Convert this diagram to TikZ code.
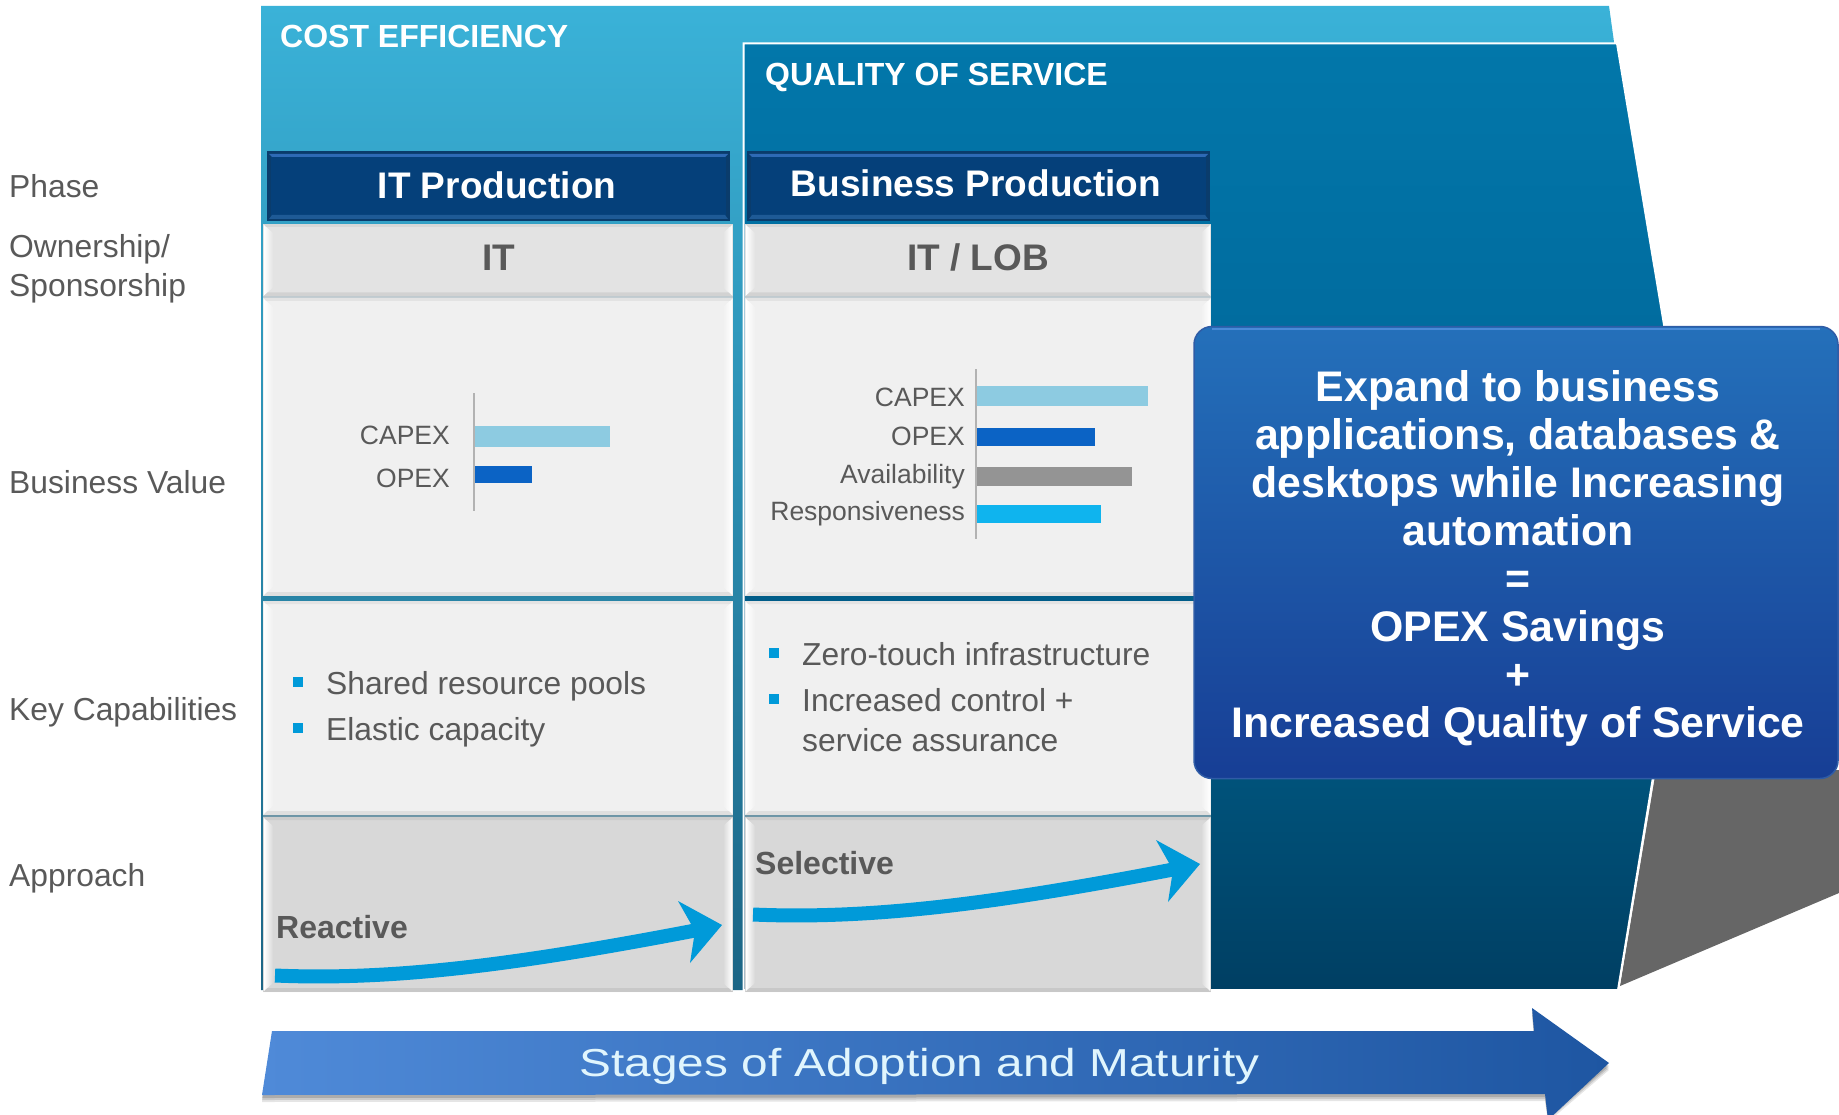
\documentclass[tikz,border=0pt]{standalone}
\usepackage{fontspec}
\setmainfont{Liberation Sans}
\usetikzlibrary{calc}
\definecolor{txtgray}{HTML}{595959}
\definecolor{qa}{HTML}{0277AA}
\definecolor{qb}{HTML}{016C9F}
\definecolor{qc}{HTML}{00527A}
\definecolor{qd}{HTML}{003F63}
\definecolor{ca}{HTML}{3AB2D8}
\definecolor{cb}{HTML}{1C6585}
\definecolor{hdr}{HTML}{05407A}
\definecolor{hdrhi}{HTML}{2E6AB5}
\definecolor{hdrlo}{HTML}{1E5A96}
\definecolor{hdrdk}{HTML}{0A3C6C}
\definecolor{rowa}{HTML}{E3E3E3}
\definecolor{rowb}{HTML}{F0F0F0}
\definecolor{rowc}{HTML}{D8D8D8}
\definecolor{barlight}{HTML}{8DCBE1}
\definecolor{barblue}{HTML}{0B63C5}
\definecolor{bargray}{HTML}{949494}
\definecolor{barcyan}{HTML}{0FB4EE}
\definecolor{accent}{HTML}{009AD9}
\definecolor{boxtop}{HTML}{2470BA}
\definecolor{boxbot}{HTML}{173E95}
\definecolor{boxedge}{HTML}{2F5CA6}
\definecolor{boxhi}{HTML}{4A8BD8}
\definecolor{arrL}{HTML}{4F8AD8}
\definecolor{arrR}{HTML}{1E56A2}
\definecolor{gapa}{HTML}{C5CFD4}
\definecolor{gapb}{HTML}{6F97A8}
\pgfdeclareverticalshading{qosshade}{100bp}{color(0bp)=(qd); color(25bp)=(qd); color(36bp)=(qc); color(60bp)=(qb); color(75bp)=(qa); color(100bp)=(qa)}
\tikzset{
  lab/.style={anchor=base west,text=txtgray,inner sep=0pt,font=\fontsize{31.8}{38}\selectfont},
  tiny label/.style={anchor=base east,text=txtgray,inner sep=0pt,font=\fontsize{26.5}{32}\selectfont},
  bold label/.style={anchor=base west,text=txtgray,inner sep=0pt,font=\bfseries\fontsize{32}{38}\selectfont},
  zone label/.style={anchor=base west,text=white,inner sep=0pt,font=\bfseries\fontsize{32}{38}\selectfont},
  head label/.style={anchor=base,text=white,inner sep=0pt,font=\bfseries\fontsize{37}{44}\selectfont},
  own label/.style={anchor=base,text=txtgray,inner sep=0pt,font=\bfseries\fontsize{37}{44}\selectfont},
  bullet mark/.style={fill=accent,inner sep=0pt,minimum size=9.5pt},
  axisline/.style={draw=black!30,line width=1.5pt},
  callout/.style={draw=boxedge,line width=1.5pt,rounded corners=18pt,top color=boxtop,bottom color=boxbot,minimum width=644pt,minimum height=452pt,inner sep=0pt},
  callout text/.style={inner sep=0pt,text=white,align=center,font=\bfseries\fontsize{42.8}{48}\selectfont},
  curvearrow/.style={draw=accent,line width=14pt},
}
% bevelled cell
\newcommand{\bevelcell}[5]{%
  \fill[#5] (#1,#2) rectangle (#3,#4);
  \shade[left color=white,right color=#5] (#1+1,#2+1) -- (#1+10,#2+9) -- (#1+10,#4-9) -- (#1+1,#4-1) -- cycle;
  \shade[right color=white,left color=#5] (#3-1,#2+1) -- (#3-10,#2+9) -- (#3-10,#4-9) -- (#3-1,#4-1) -- cycle;
  \fill[black,opacity=.07] (#1,#4) -- (#1+4,#4-4) -- (#3-4,#4-4) -- (#3,#4) -- cycle;
  \fill[black,opacity=.05] (#1,#2) -- (#1+3,#2+3) -- (#3-3,#2+3) -- (#3,#2) -- cycle;
}
\newcommand{\headercell}[4]{%
  \fill[hdrdk] (#1,#2) rectangle (#3,#4);
  \fill[hdr] (#1+4,#2+3) rectangle (#3-4,#4-3);
  \fill[hdrhi] (#1+2,#2+3) -- (#3-2,#2+3) -- (#3-5,#2+6) -- (#1+5,#2+6) -- cycle;
  \fill[hdrlo] (#1+2,#4-2) -- (#3-2,#4-2) -- (#3-5,#4-6) -- (#1+5,#4-6) -- cycle;
}
\newcommand{\curvedarrow}[2]{%
  \begin{scope}[shift={(#1,#2)}]
    \coordinate (ca) at (275,975.5);
    \coordinate (cb) at (695,930.5);
    \draw[curvearrow] (ca) .. controls (400,981) and (530,962) .. (cb);
    \fill[accent] (722,925) -- (678,901) -- (695,931) -- (690,963) -- cycle;
  \end{scope}
}
\begin{document}
\begin{tikzpicture}[x=1pt,y=-1pt]
\useasboundingbox (0,0) rectangle (1839,1115);
% gray wedge
\fill[black!60] (1620,986) -- (1656,770) -- (1839,770) -- (1839,893) -- cycle;
% cost efficiency zone
\shade[top color=ca,bottom color=cb] (261,6) -- (1609,6) -- (1614,42) -- (1614,990) -- (261,990) -- cycle;
% quality of service zone
\shadedraw[shading=qosshade,draw=white,line width=2pt] (743.5,43.5) -- (1617,43.5) -- (1696,516) -- (1618,990) -- (743.5,990) -- cycle;
\node[zone label] (costlab) at (280,48) {COST EFFICIENCY};
\node[zone label] (qoslab) at (765,86) {QUALITY OF SERVICE};
% column 1
\fill[gapa] (263,296) rectangle (733,299);
\fill[gapb] (263,814.5) rectangle (733,817.5);
\headercell{267}{151}{730}{221}
\bevelcell{263}{224}{733}{296.5}{rowa}
\bevelcell{263}{298}{733}{596}{rowb}
\bevelcell{263}{601}{733}{815}{rowb}
\bevelcell{263}{817}{733}{992}{rowc}
% column 2
\fill[gapa] (745,296) rectangle (1211,299);
\fill[gapb] (745,814.5) rectangle (1211,817.5);
\headercell{747}{151}{1210}{221}
\bevelcell{745}{224}{1211}{296.5}{rowa}
\bevelcell{745}{298}{1211}{596}{rowb}
\bevelcell{745}{601}{1211}{815}{rowb}
\bevelcell{745}{817}{1211}{992}{rowc}
\node[head label] (h1) at (497,199) {IT Production};
\node[head label] (h2) at (976,197) {Business Production};
\node[own label] (o1) at (499,271) {IT};
\node[own label] (o2) at (978,271) {IT / LOB};
% row titles
\node[lab] (t1) at (9,198) {Phase};
\node[lab] (t2) at (9,258) {Ownership/};
\node[lab] (t3) at (9,297) {Sponsorship};
\node[lab] (t4) at (9,493) {Business Value};
\node[lab] (t5) at (9,720) {Key Capabilities};
\node[lab] (t6) at (9,886) {Approach};
% chart 1
\coordinate (ax1a) at (474,393);
\coordinate (ax1b) at (474,511);
\draw[axisline] (ax1a) -- (ax1b);
\fill[barlight] (475,426) rectangle (610,447);
\fill[barblue] (475,466) rectangle (532,483);
\node[tiny label] (c1a) at (450,444) {CAPEX};
\node[tiny label] (c1b) at (450,487) {OPEX};
% chart 2
\coordinate (ax2a) at (976,369);
\coordinate (ax2b) at (976,539);
\draw[axisline] (ax2a) -- (ax2b);
\fill[barlight] (977,386) rectangle (1148,406);
\fill[barblue] (977,428) rectangle (1095,446);
\fill[bargray] (977,467) rectangle (1132,486);
\fill[barcyan] (977,505) rectangle (1101,523);
\node[tiny label] (c2a) at (965,406) {CAPEX};
\node[tiny label] (c2b) at (965,445) {OPEX};
\node[tiny label] (c2c) at (965,483) {Availability};
\node[tiny label] (c2d) at (965,520) {Responsiveness};
% capabilities
\node[bullet mark] (b1) at (298,682) {};
\node[bullet mark] (b2) at (298,728) {};
\node[lab] (k1) at (326,694) {Shared resource pools};
\node[lab] (k2) at (326,740) {Elastic capacity};
\node[bullet mark] (b3) at (774,653) {};
\node[bullet mark] (b4) at (774,699) {};
\node[lab] (k3) at (802,665) {Zero-touch infrastructure};
\node[lab] (k4) at (802,711) {Increased control +};
\node[lab] (k5) at (802,751) {service assurance};
% approach
\node[bold label] (a1) at (276,938) {Reactive};
\node[bold label] (a2) at (755,874) {Selective};
\curvedarrow{0}{0}
\curvedarrow{478}{-61}
% callout
\node[callout] (box) at (1516,552.5) {};
\draw[line width=2.5pt,color=boxhi] (1212,329) -- (1820,329);
\node[callout text] (boxtext) at (1518,558) {Expand to business\\applications, databases \&\\desktops while Increasing\\automation\\=\\OPEX Savings\\+\\Increased Quality of Service};
% stage arrow
\foreach \d/\o in {7/.10,5/.12,3/.15}{
  \fill[black,opacity=\o] (262,1095+\d) -- (1545,1094+\d) -- (1548,1115+\d) -- (1609,1063+\d) -- (1532,1008+\d) -- (1534,1031+\d) -- (272,1031+\d) -- cycle;
}
\shade[left color=arrL,right color=arrR] (272,1031) -- (1534,1031) -- (1532,1008) -- (1609,1063) -- (1548,1120) -- (1545,1094) -- (262,1095) -- cycle;
\node[anchor=center,inner sep=0pt,text=white!88!cyan,font=\fontsize{39}{46}\selectfont] (stage) at (919.5,1066) {\scalebox{1.225}[1]{Stages of Adoption and Maturity}};
\end{tikzpicture}
\end{document}
